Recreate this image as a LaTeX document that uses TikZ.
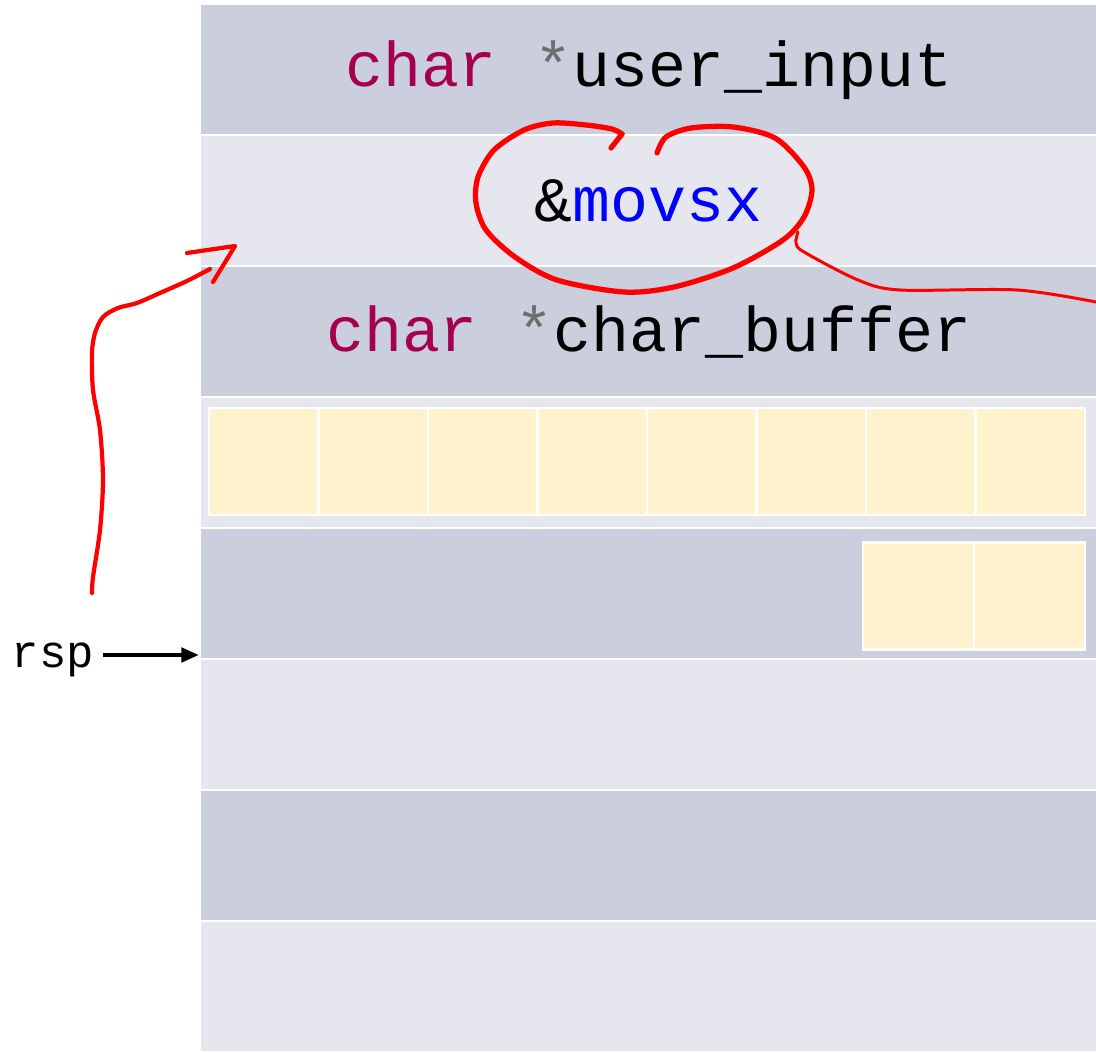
\documentclass[tikz,border=0pt]{standalone}
\usepackage{fontspec}
\setmonofont{Liberation Mono}
\usetikzlibrary{arrows.meta}
\definecolor{rowdark}{HTML}{CBCEDC}
\definecolor{rowlight}{HTML}{E6E7EE}
\definecolor{cellyellow}{HTML}{FFF2CC}
\definecolor{kwred}{HTML}{A50050}
\definecolor{stargray}{HTML}{6E6E6E}
\definecolor{inkred}{HTML}{FF0000}
\newcommand{\kw}[1]{{\color{kwred}#1}}
\begin{document}
\begin{tikzpicture}[x=0.02cm,y=-0.02cm,
  slot/.style={anchor=north west,minimum width=17.9cm,minimum height=2.58cm,inner sep=0pt,
    font=\ttfamily\fontsize{36}{40}\selectfont},
  darkslot/.style={slot,fill=rowdark},
  lightslot/.style={slot,fill=rowlight},
  byte/.style={fill=cellyellow,draw=white,line width=1.2pt,minimum width=2.19cm,minimum height=2.14cm,inner sep=0pt},
  ink/.style={draw=inkred,line width=3pt,line cap=round,line join=round}]
\useasboundingbox (0,0) rectangle (1096,1053);
\node[darkslot] (s1) at (201,5) {\kw{char} {\color{stargray}*}user\_input};
\node[lightslot] (s2) at (201,136) {\&{\color{blue}movsx}};
\node[darkslot] (s3) at (201,267) {\kw{char} {\color{stargray}*}char\_buffer};
\node[lightslot] (s4) at (201,398) {};
\node[darkslot] (s5) at (201,529) {};
\node[lightslot] (s6) at (201,660) {};
\node[darkslot] (s7) at (201,791) {};
\node[lightslot] (s8) at (201,922) {};
\foreach \i in {1,...,8}
  \node[byte] (b\i) at (209+109.5*\i-54.75,461.5) {};
\node[byte,minimum width=2.22cm] (c1) at (918.5,596) {};
\node[byte,minimum width=2.22cm] (c2) at (1029.5,596) {};
\node[font=\ttfamily\fontsize{26}{30}\selectfont,inner sep=5pt] (rsp) at (53,660) {rsp};
\coordinate (sp) at (199,655);
\draw[line width=2.8pt,-{Triangle[length=10pt,width=8pt]}] (rsp.east |- sp) -- (sp);
\draw[ink] plot[smooth] coordinates {(622,134) (612,129) (586,125) (553,123) (524,130) (494,150) (478,177) (476,203) (486,230) (515,257) (557,280) (624,292) (674,287) (733,268) (783,240) (804,217) (812,190) (804,167) (775,138) (733,127) (691,128) (666,137) (657,153)};
\draw[ink] (611,148) -- (622,134);
\draw[ink,line width=1.7pt] plot[smooth] coordinates {(798,232) (796,243) (804,252) (858,280) (900,290) (1017,290) (1096,302)};
\draw[ink,line width=2.4pt] plot[smooth] coordinates {(92,593) (93,577) (100,530) (103,480) (100,430) (93,390) (92,353) (95,333) (103,317) (118,308) (137,303) (160,293) (187,281) (210,269)};
\draw[ink,line width=2.4pt] (187,253) -- (235,246) -- (213,282);
\end{tikzpicture}
\end{document}
